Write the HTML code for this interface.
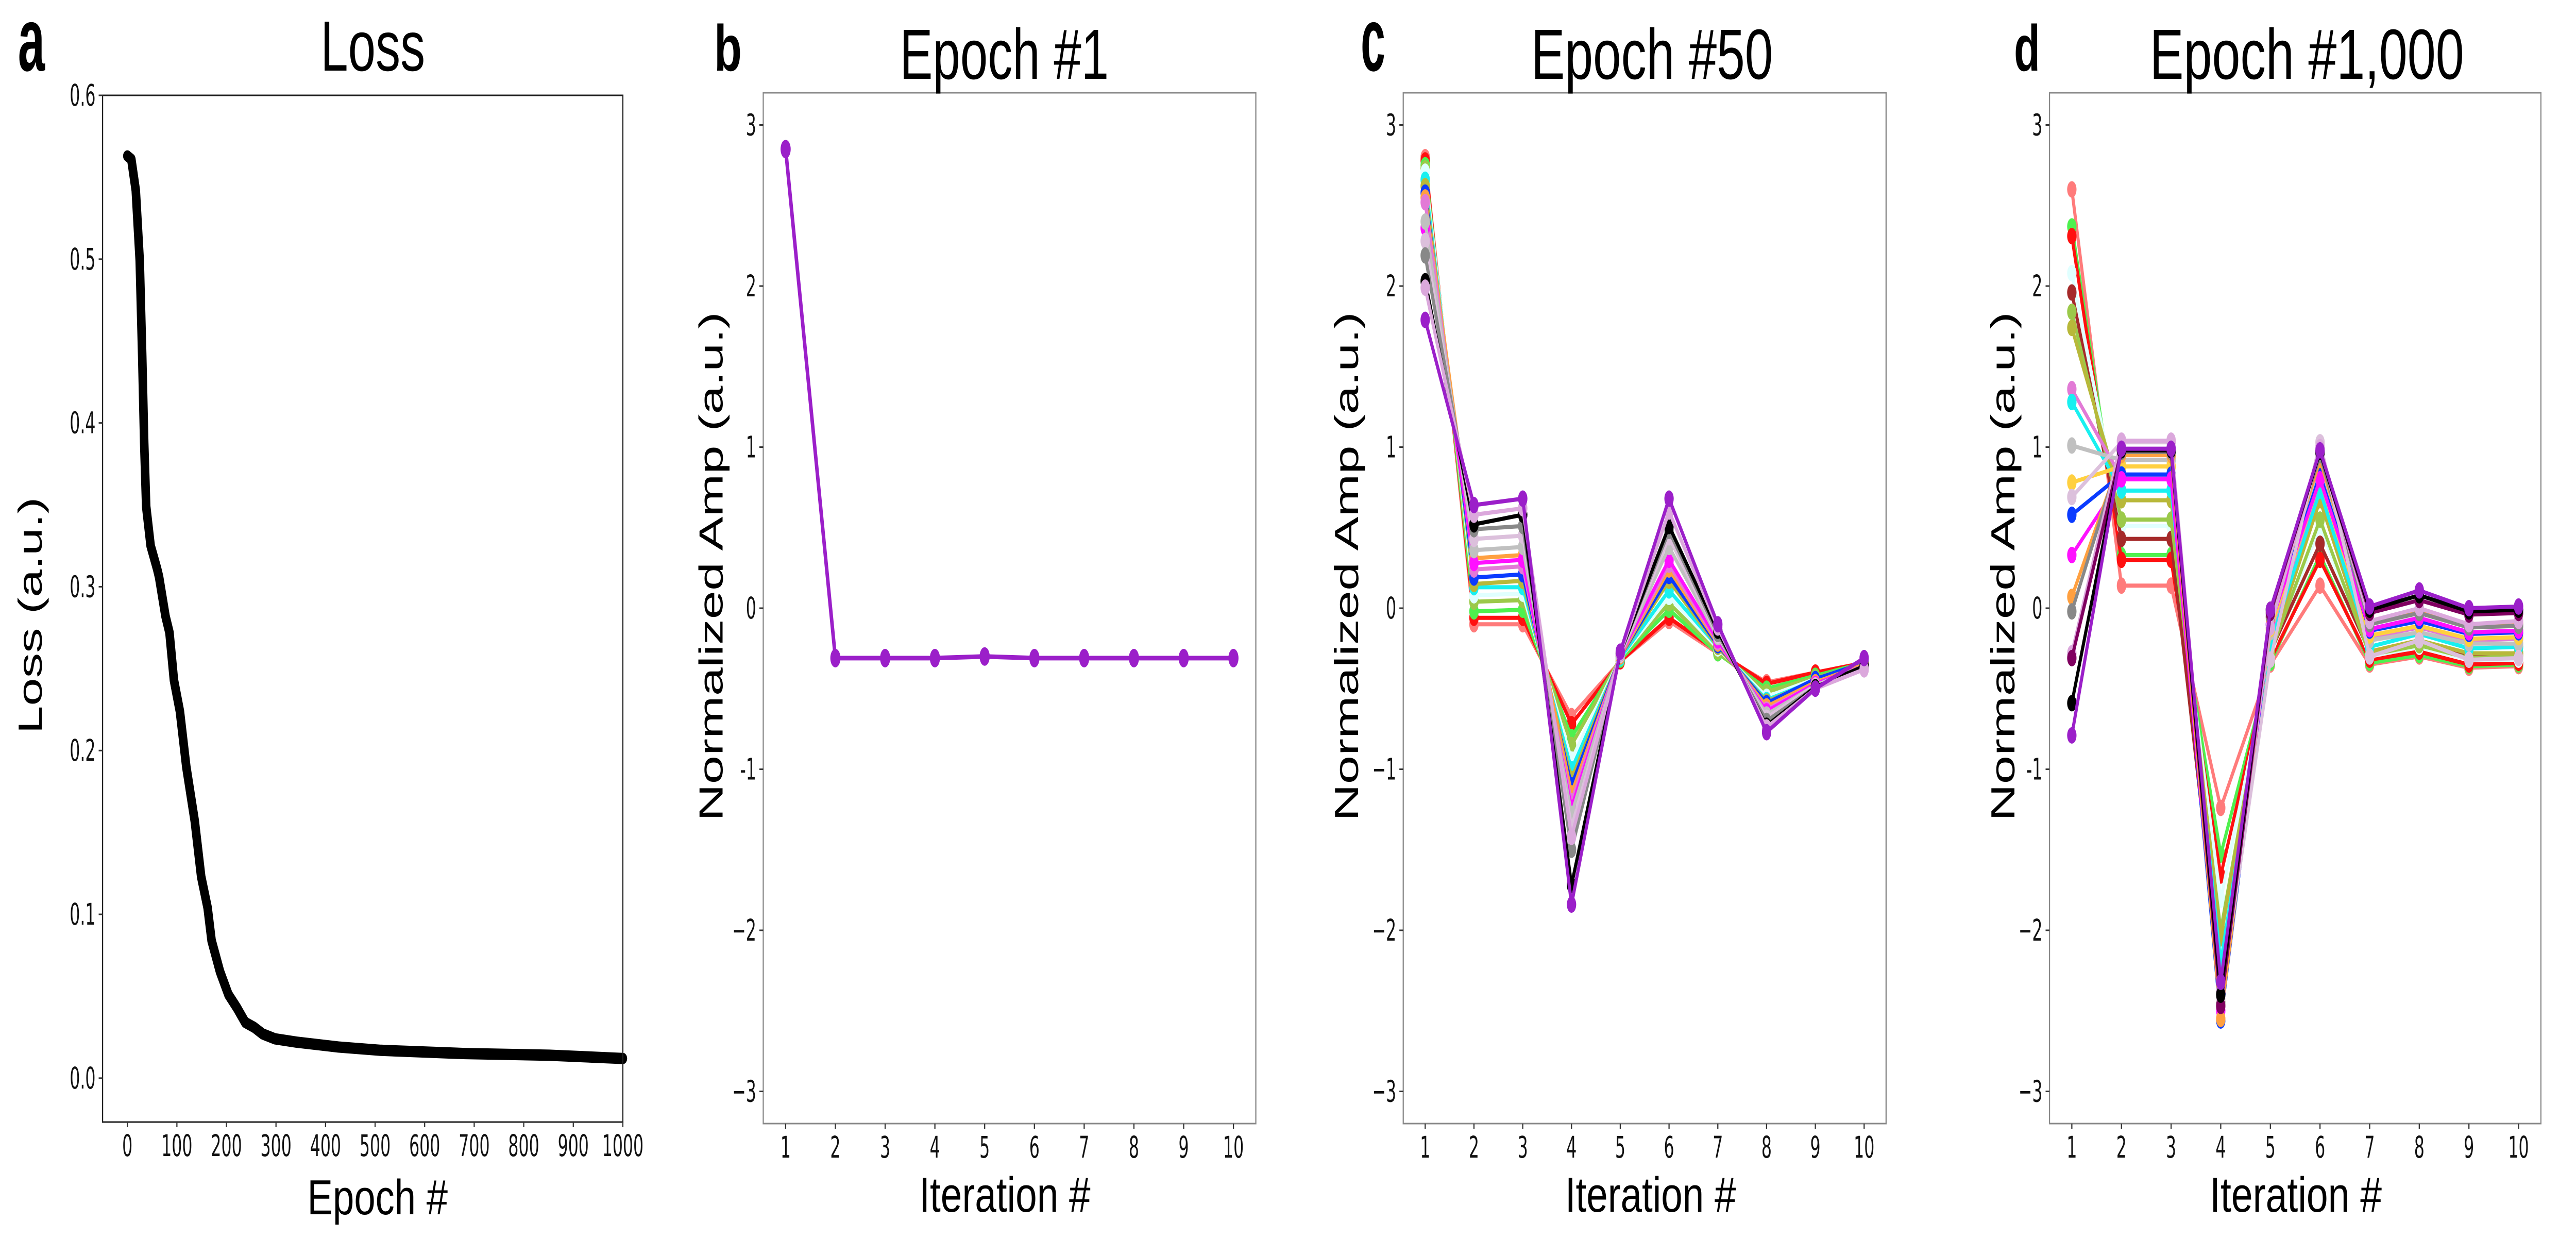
<!DOCTYPE html>
<html><head><meta charset="utf-8"><style>
html,body{margin:0;padding:0;background:#fff;overflow:hidden;width:100%;height:100%;}
svg{display:block;width:100vw;height:100vh;}
text{font-family:"Liberation Sans",sans-serif;fill:#000;}
.tick{font-family:"DejaVu Sans","Liberation Sans",sans-serif;fill:#111;}
</style></head><body>
<svg id="fig" xmlns="http://www.w3.org/2000/svg" viewBox="0 0 6605 2402" preserveAspectRatio="none">
</svg>
<script>
// ---- data ----
const lossEpochs = [0,8,17,25,30,34,38,47,60,64,77,85,94,106,119,136,149,162,170,187,204,221,238,256,273,298,341,426,511,681,852,1000];
const lossValues = [0.563,0.561,0.542,0.499,0.441,0.388,0.349,0.325,0.311,0.306,0.282,0.272,0.243,0.224,0.190,0.157,0.123,0.104,0.084,0.065,0.051,0.043,0.034,0.031,0.027,0.024,0.022,0.019,0.017,0.015,0.014,0.012];
const lossXTicks = [0,100,200,300,400,500,600,700,800,900,1000];
const lossYTicks = [0.0,0.1,0.2,0.3,0.4,0.5,0.6];
const iterations = [1,2,3,4,5,6,7,8,9,10];
const ampYTicks = [-3,-2,-1,0,1,2,3];
const epoch1Values = [2.85,-0.31,-0.31,-0.31,-0.30,-0.31,-0.31,-0.31,-0.31,-0.31];
const epoch50Colors = ["#ff7b7b","#ff1010","#4ef04e","#9bc94a","#e0ffff","#18f0f0","#b8b83a","#0a3bff","#ffa040","#e27ad6","#ff10ff","#c0c0c0","#dcc0dc","#888888","#000000","#dba8dc","#9b1fc9"];
const epoch50Values = [
[2.80,-0.10,-0.10,-0.67,-0.33,-0.08,-0.28,-0.46,-0.40,-0.34],
[2.78,-0.06,-0.06,-0.72,-0.33,-0.06,-0.27,-0.47,-0.40,-0.34],
[2.75,-0.02,-0.01,-0.80,-0.32,-0.01,-0.28,-0.50,-0.42,-0.34],
[2.73,0.04,0.05,-0.85,-0.31,0.03,-0.27,-0.52,-0.43,-0.35],
[2.71,0.08,0.09,-0.94,-0.31,0.07,-0.25,-0.55,-0.44,-0.35],
[2.66,0.13,0.13,-1.00,-0.31,0.11,-0.24,-0.57,-0.45,-0.35],
[2.62,0.15,0.17,-1.06,-0.30,0.17,-0.24,-0.58,-0.45,-0.35],
[2.58,0.19,0.21,-1.10,-0.30,0.20,-0.23,-0.59,-0.44,-0.34],
[2.55,0.31,0.33,-1.15,-0.30,0.24,-0.22,-0.61,-0.46,-0.35],
[2.52,0.24,0.26,-1.20,-0.29,0.27,-0.21,-0.63,-0.47,-0.36],
[2.36,0.28,0.30,-1.24,-0.29,0.30,-0.20,-0.64,-0.47,-0.36],
[2.40,0.36,0.38,-1.28,-0.29,0.38,-0.18,-0.66,-0.48,-0.36],
[2.28,0.43,0.45,-1.36,-0.29,0.44,-0.17,-0.68,-0.48,-0.37],
[2.19,0.49,0.51,-1.50,-0.28,0.48,-0.16,-0.70,-0.49,-0.37],
[2.03,0.52,0.58,-1.72,-0.28,0.51,-0.14,-0.73,-0.49,-0.36],
[1.99,0.58,0.62,-1.42,-0.28,0.60,-0.12,-0.74,-0.50,-0.38],
[1.79,0.64,0.68,-1.84,-0.27,0.68,-0.10,-0.77,-0.50,-0.31]];
const epoch1000Colors = ["#ff7b7b","#4ef04e","#ff1010","#e0ffff","#a52a2a","#9bc94a","#b8b83a","#e27ad6","#18f0f0","#c0c0c0","#ffd040","#0a3bff","#ff10ff","#ffa040","#888888","#dcc0dc","#dba8dc","#800060","#000000","#9b1fc9"];
const epoch1000Values = [
[2.60,0.14,0.14,-1.24,-0.35,0.14,-0.35,-0.30,-0.37,-0.36],
[2.37,0.33,0.33,-1.53,-0.34,0.33,-0.34,-0.29,-0.36,-0.35],
[2.31,0.30,0.30,-1.66,-0.32,0.30,-0.32,-0.27,-0.35,-0.34],
[2.08,0.51,0.51,-1.81,-0.30,0.51,-0.30,-0.24,-0.32,-0.32],
[1.96,0.43,0.43,-2.30,-0.27,0.40,-0.27,-0.20,-0.29,-0.28],
[1.84,0.55,0.55,-2.00,-0.28,0.55,-0.29,-0.23,-0.31,-0.30],
[1.74,0.67,0.67,-2.05,-0.26,0.67,-0.27,-0.20,-0.28,-0.28],
[1.36,0.81,0.81,-2.35,-0.20,0.78,-0.18,-0.12,-0.20,-0.19],
[1.28,0.73,0.73,-2.20,-0.22,0.73,-0.24,-0.16,-0.25,-0.24],
[1.01,0.92,0.92,-2.40,-0.15,0.88,-0.20,-0.15,-0.22,-0.22],
[0.78,0.88,0.88,-2.45,-0.13,0.80,-0.17,-0.11,-0.19,-0.18],
[0.58,0.83,0.83,-2.56,-0.10,0.83,-0.14,-0.08,-0.16,-0.15],
[0.33,0.80,0.80,-2.50,-0.10,0.80,-0.13,-0.06,-0.15,-0.14],
[0.07,0.95,0.95,-2.55,-0.06,0.92,-0.08,-0.02,-0.10,-0.09],
[-0.02,0.97,0.97,-2.45,-0.05,0.95,-0.10,-0.03,-0.12,-0.11],
[0.69,1.03,1.03,-2.42,-0.32,1.03,-0.30,-0.20,-0.32,-0.31],
[-0.28,1.04,1.04,-2.38,-0.12,1.00,-0.08,0.00,-0.10,-0.08],
[-0.31,0.98,0.98,-2.47,-0.03,0.97,-0.03,0.05,-0.04,-0.03],
[-0.59,0.98,0.98,-2.40,-0.01,0.97,-0.01,0.08,-0.02,-0.01],
[-0.79,0.99,0.99,-2.32,-0.01,0.98,0.01,0.11,0.00,0.01]];

// ---- helpers ----
const NS = "http://www.w3.org/2000/svg";
const fig = document.getElementById('fig');
function mk(tag, attrs, parent){
  const e = document.createElementNS(NS, tag);
  for (const k in attrs) e.setAttribute(k, attrs[k]);
  (parent||fig).appendChild(e);
  return e;
}
function scaleFn(d0,d1,r0,r1){ return v => r0 + (v-d0)*(r1-r0)/(d1-d0); }
function label(parent, str, x, y, opts){
  const t = mk('text', {x:x, y:y, 'font-size':opts.size, 'text-anchor':opts.anchor||'start'}, parent);
  if (opts.len){ t.setAttribute('textLength', opts.len); t.setAttribute('lengthAdjust','spacingAndGlyphs'); }
  if (opts.weight) t.setAttribute('font-weight', opts.weight);
  if (opts.transform) t.setAttribute('transform', opts.transform);
  t.textContent = str;
  return t;
}
function tickText(parent, str, x, y, anchor){
  const g = mk('g', {transform:`translate(${x},${y}) scale(0.72,1)`}, parent);
  const t = mk('text', {x:0, y:0, 'font-size':58, 'text-anchor':anchor, class:'tick'}, g);
  t.textContent = str;
  return t;
}
function makeAxes(name, L, R, T, B, xd, yd, frame){
  const g = mk('g', {});
  
  
  const sx = scaleFn(xd[0], xd[1], L, R);
  const sy = scaleFn(yd[0], yd[1], B, T);
  return {g, sx, sy, L, R, T, B, frame};
}
function drawFrame(ax){
  const r = mk('rect', {x:ax.L, y:ax.T, width:ax.R-ax.L, height:ax.B-ax.T, fill:'none', stroke:ax.frame, 'stroke-width':3}, ax.g);
  
  
}
function drawXTicks(ax, ticks, fmt){
  const g = mk('g', {}, ax.g);
  
  
  ticks.forEach(v => {
    const x = ax.sx(v);
    mk('line', {x1:x, x2:x, y1:ax.B, y2:ax.B+10, stroke:'#333', 'stroke-width':3}, g);
    const t = tickText(g, fmt(v), x, ax.B+66, 'middle');
    
    
  });
}
function drawYTicks(ax, ticks, fmt){
  const g = mk('g', {}, ax.g);
  
  
  ticks.forEach(v => {
    const y = ax.sy(v);
    mk('line', {x1:ax.L-10, x2:ax.L, y1:y, y2:y, stroke:'#333', 'stroke-width':3}, g);
    const t = tickText(g, fmt(v), ax.L-18, y+20, 'end');
    
    
  });
}
function drawSeries(ax, xs, ys, color, lw, rx, ry, name){
  const g = mk('g', {}, ax.g);
  
  
  const pts = xs.map((x,i)=>ax.sx(x)+','+ax.sy(ys[i])).join(' ');
  mk('polyline', {points:pts, fill:'none', stroke:color, 'stroke-width':lw, 'stroke-linejoin':'round'}, g);
  xs.forEach((x,i)=>{
    const e = mk('ellipse', {cx:ax.sx(x), cy:ax.sy(ys[i]), rx:rx, ry:ry, fill:color}, g);
    
    
  });
}
function ampFmt(minus){ return v => v<0 ? (v===-1 && minus==='-' ? '-1' : '\u2212'+(-v)) : String(v); }

// ---- panel a ----
const axA = makeAxes('panel-a-loss', 263, 1597, 185, 2177, [-50,1000], [-0.0268,0.6], '#222');
{
  const g = mk('g', {}, axA.g);
  
  
  const pts = lossEpochs.map((e,i)=>axA.sx(e)+','+axA.sy(lossValues[i])).join(' ');
  mk('polyline', {points:pts, fill:'none', stroke:'#000', 'stroke-width':22, 'stroke-linejoin':'round', 'stroke-linecap':'round'}, g);
}
drawFrame(axA);
drawXTicks(axA, lossXTicks, v=>String(v));
drawYTicks(axA, lossYTicks, v=>v.toFixed(1));

// ---- panels b/c/d ----
const axB = makeAxes('panel-b-epoch-1', 1957, 3220, 180, 2180, [0.55,10.45], [-3.2,3.2], '#888');
drawFrame(axB);
drawSeries(axB, iterations, epoch1Values, '#9b1fc9', 9, 13, 18, 'series-epoch-1');
drawXTicks(axB, iterations, v=>String(v));
drawYTicks(axB, ampYTicks, ampFmt('-'));

const axC = makeAxes('panel-c-epoch-50', 3598, 4836, 180, 2180, [0.55,10.45], [-3.2,3.2], '#888');
drawFrame(axC);
epoch50Values.forEach((vals,i)=>drawSeries(axC, iterations, vals, epoch50Colors[i], 8, 12, 16, 'series-epoch-50'));
drawXTicks(axC, iterations, v=>String(v));
drawYTicks(axC, ampYTicks, ampFmt('\u2212'));

const axD = makeAxes('panel-d-epoch-1000', 5255, 6515, 180, 2180, [0.55,10.45], [-3.2,3.2], '#888');
drawFrame(axD);
epoch1000Values.forEach((vals,i)=>drawSeries(axD, iterations, vals, epoch1000Colors[i], 8, 12, 16, 'series-epoch-1000'));
drawXTicks(axD, iterations, v=>String(v));
drawYTicks(axD, ampYTicks, ampFmt('-'));

// ---- text labels ----
function txt(name, str, x, y, opts){
  const t = label(fig, str, x, y, opts);
  
  
}
txt('panel-letter-a', 'a', 46, 137, {size:175, weight:'bold', len:69});
txt('panel-letter-b', 'b', 1831, 137, {size:126, weight:'bold', len:71});
txt('panel-letter-c', 'c', 3489, 137, {size:175, weight:'bold', len:63});
txt('panel-letter-d', 'd', 5164, 137, {size:126, weight:'bold', len:67});

txt('title-loss', 'Loss', 822, 137, {size:138, len:268});
txt('title-epoch-1', 'Epoch #1', 2307, 153, {size:138, len:536});
txt('title-epoch-50', 'Epoch #50', 3926, 153, {size:138, len:620});
txt('title-epoch-1000', 'Epoch #1,000', 5512, 153, {size:138, len:806});

txt('x-axis-title-a', 'Epoch #', 788, 2356, {size:96, len:360});
txt('x-axis-title-b', 'Iteration #', 2357, 2351, {size:96, len:439});
txt('x-axis-title-c', 'Iteration #', 4013, 2351, {size:96, len:438});
txt('x-axis-title-d', 'Iteration #', 5666, 2351, {size:96, len:441});

txt('y-axis-title-a', 'Loss (a.u.)', 0, 0, {size:86, len:459, anchor:'middle', transform:'translate(107,1194) rotate(-90)'});
txt('y-axis-title-b', 'Normalized Amp (a.u.)', 0, 0, {size:86, len:988, anchor:'middle', transform:'translate(1853,1099) rotate(-90)'});
txt('y-axis-title-c', 'Normalized Amp (a.u.)', 0, 0, {size:86, len:988, anchor:'middle', transform:'translate(3482,1099) rotate(-90)'});
txt('y-axis-title-d', 'Normalized Amp (a.u.)', 0, 0, {size:86, len:988, anchor:'middle', transform:'translate(5165,1099) rotate(-90)'});
</script>
</body></html>
